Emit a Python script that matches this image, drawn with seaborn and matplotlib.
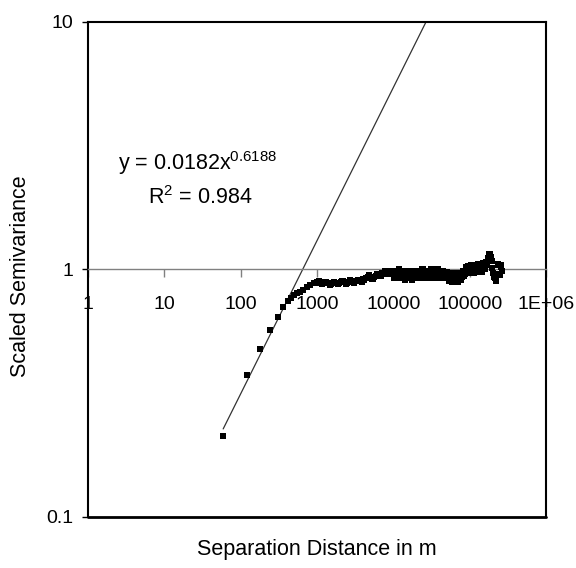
import matplotlib
matplotlib.use("Agg")
import matplotlib.pyplot as plt
import matplotlib.ticker as mticker
import seaborn as sns
import numpy as np

# semivariogram points (lag in m, scaled semivariance)
dist_m = [
    59, 122, 179, 242, 311, 362, 421, 455, 495, 540, 599, 660, 730, 809, 900,
    1000, 1060, 1130, 1200, 1270, 1350, 1430, 1520, 1610, 1710, 1820, 1930,
    2050, 2180, 2310, 2450, 2600, 2760, 2930, 3110, 3300, 3500, 3720, 3950,
    4190, 4450, 4720, 5010, 5320, 5650, 6000, 6370, 6760, 7180, 7620, 8090,
    8590, 9120, 9680,
    10000, 10500, 11000, 11500, 12000, 12500, 13000, 14000, 14500, 15000,
    16000, 16500, 17500, 18000, 19000, 20000, 21000, 22000, 23000, 24000,
    25000, 26500, 27500, 29000, 30000, 31500, 33000, 34500, 36000, 38000,
    39500, 41500, 43500, 45500, 47500, 50000, 52000, 54500, 57000, 60000,
    62500, 65500, 68500, 71500, 75000, 78500, 82000, 86000, 90000, 94000,
    98500, 103000, 108000, 113000, 118000, 123000, 129000, 135000, 141000,
    148000, 155000, 162000, 169000, 177000, 185000, 194000, 203000, 212000,
    222000, 232000, 243000, 254000, 265000,
]
semivar = [
    0.213, 0.375, 0.479, 0.570, 0.645, 0.708, 0.745, 0.770, 0.790, 0.800,
    0.814, 0.830, 0.850, 0.866, 0.880,
    0.890, 0.895, 0.890, 0.885, 0.880, 0.885, 0.880, 0.875, 0.880, 0.885,
    0.880, 0.885, 0.890, 0.895, 0.890, 0.885, 0.890, 0.895, 0.890, 0.895,
    0.900, 0.895, 0.905, 0.915, 0.910, 0.920, 0.935, 0.925, 0.915, 0.930,
    0.945, 0.940, 0.955, 0.970, 0.960, 0.975, 0.985, 0.970, 0.990,
    0.97, 0.94, 0.99, 0.95, 0.98, 0.93, 0.97, 0.99, 0.94, 0.96,
    0.99, 0.95, 0.97, 0.93, 0.98, 0.96, 0.99, 0.95, 0.97, 1.00,
    0.94, 0.98, 0.96, 0.99, 0.95, 0.98, 0.94, 0.97, 1.00, 0.95,
    0.97, 0.96, 0.99, 0.94, 0.97, 0.97, 0.93, 0.96, 0.91, 0.94,
    0.90, 0.95, 0.92, 0.96, 0.93, 0.97, 0.99, 0.96, 1.02, 0.98,
    1.03, 0.97, 1.01, 1.04, 0.99, 1.02, 1.05, 1.00, 1.03, 1.06,
    1.01, 1.04, 1.07, 1.10, 1.16, 1.08, 0.97, 0.93, 0.90, 1.04,
    0.96, 1.02, 0.99,
]

# extra overlapping lags that make the band thick
dense_dist_m = [
    1030, 1165, 1310, 1475, 1660, 1875, 2115, 2380, 2680, 3020, 3400, 3830,
    4320, 4860, 5480, 6180, 6960, 7850, 8840,
    10250, 10750, 11250, 11750, 12250, 12750, 13500, 14250, 14750, 15500,
    16250, 17000, 17750, 18500, 19500, 20500, 21500, 22500,
    23500, 24500, 25700, 27000, 28200, 29500, 30700, 32200, 33700, 35200,
    37000, 38700, 40500, 42500, 44500, 46500, 48700,
    51000, 53200, 55700, 58500, 61200, 64000, 67000, 70000, 73200, 76700,
    80200, 84000, 88000,
    92000, 96200, 100700, 105500, 110500, 115500, 120500, 126000, 132000,
    138000, 144500, 151500, 158500, 165500, 173000,
    181000, 189500, 198500, 207500, 217000, 227000, 237500, 248500, 259500,
]
dense_semivar = [
    0.878, 0.873, 0.892, 0.868, 0.893, 0.872, 0.902, 0.876, 0.903, 0.884,
    0.911, 0.892, 0.925, 0.948, 0.918, 0.958, 0.942, 0.988, 0.962,
    0.92, 0.99, 0.93, 1.00, 0.92, 0.98, 0.93, 0.91, 0.99, 0.92,
    0.93, 0.99, 0.91, 0.99, 0.92, 0.98, 0.92, 0.99,
    0.92, 1.00, 0.93, 0.92, 0.99, 0.93, 1.00, 0.92, 0.99, 0.93,
    0.92, 1.00, 0.93, 0.92, 0.99, 0.93, 0.92,
    0.98, 0.90, 0.97, 0.89, 0.96, 0.90, 0.97, 0.89, 0.96, 0.91,
    0.93, 0.94, 0.96,
    0.97, 1.03, 0.97, 1.04, 0.98, 0.97, 1.03, 0.98, 1.05,
    0.99, 0.98, 1.06, 1.00, 1.07, 1.11,
    1.16, 1.12, 1.01, 0.93, 0.92, 0.96, 1.05, 0.95, 1.04,
]

# power trendline shown on the chart
fit_a = 0.0182
fit_b = 0.6188
r_squared = 0.984

x_ticks = [1, 10, 100, 1000, 10000, 100000, 1000000]
x_tick_labels = ["1", "10", "100", "1000", "10000", "100000", "1E+06"]
y_ticks = [0.1, 1, 10]
y_tick_labels = ["0.1", "1", "10"]

sns.set_theme(style="white")
plt.rcParams["font.family"] = ["Liberation Sans", "DejaVu Sans"]
plt.rcParams["mathtext.fontset"] = "custom"
plt.rcParams["mathtext.rm"] = "Liberation Sans"
plt.rcParams["mathtext.it"] = "Liberation Sans"

fig = plt.figure(figsize=(5.76, 5.68), dpi=100)
ax = fig.add_axes([0.1528, 0.0898, 0.7951, 0.8715])
ax.set_xscale("log")
ax.set_yscale("log")

trend_x = np.geomspace(min(dist_m), max(dist_m), 60)
trend_y = fit_a * trend_x ** fit_b
sns.lineplot(x=trend_x, y=trend_y, color="#333333", linewidth=0.9, ax=ax, zorder=2)
sns.scatterplot(x=dist_m, y=semivar, marker="s", s=14, color="black",
                linewidth=0, ax=ax, zorder=3)
sns.scatterplot(x=dense_dist_m, y=dense_semivar, marker="s", s=24, color="black",
                linewidth=0, ax=ax, zorder=3)

ax.set_xlim(1, 1e6)
ax.set_ylim(0.1, 10)

# box around plot area, x axis crossing at y = 1
for side in ["left", "top", "right"]:
    ax.spines[side].set_color("black")
    ax.spines[side].set_linewidth(1.5)
ax.spines["bottom"].set_position(("data", 1))
ax.spines["bottom"].set_color("#808080")
ax.spines["bottom"].set_linewidth(1)
ax.axhline(0.1, color="black", linewidth=2, clip_on=False, zorder=4)

ax.xaxis.set_major_locator(mticker.FixedLocator(x_ticks))
ax.xaxis.set_major_formatter(mticker.FixedFormatter(x_tick_labels))
ax.xaxis.set_minor_locator(mticker.NullLocator())
ax.yaxis.set_major_locator(mticker.FixedLocator(y_ticks))
ax.yaxis.set_major_formatter(mticker.FixedFormatter(y_tick_labels))
ax.yaxis.set_minor_locator(mticker.NullLocator())
ax.tick_params(axis="x", bottom=True, direction="out", length=6, width=1,
               color="#808080", pad=13, labelsize=14, labelcolor="black")
ax.tick_params(axis="y", left=True, direction="out", length=4.5, width=1,
               color="black", pad=6, labelsize=14, labelcolor="black")

ax.set_xlabel("Separation Distance in m", fontsize=15.5, color="black")
ax.xaxis.set_label_coords(0.5, -0.044)
ax.set_ylabel("Scaled Semivariance", fontsize=15.5, color="black")
ax.yaxis.set_label_coords(-0.124, 0.487)

ax.text(0.0655, 0.701, r"y = 0.0182x$^{%s}$" % fit_b, transform=ax.transAxes,
        fontsize=15.5, va="baseline", ha="left", color="black")
ax.text(0.131, 0.632, r"R$^{2}$ = %s" % r_squared, transform=ax.transAxes,
        fontsize=15.5, va="baseline", ha="left", color="black")

fig.savefig("out.png", dpi=100)
